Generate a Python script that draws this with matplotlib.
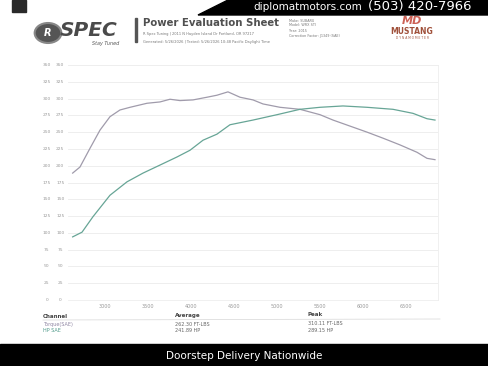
import matplotlib.pyplot as plt
from matplotlib.patches import Polygon, Rectangle, Circle

# dyno run
rpm_tq = [2624, 2709, 2826, 2942, 3058, 3174, 3291, 3488, 3640, 3756, 3872, 4023,
          4186, 4302, 4430, 4570, 4721, 4837, 5035, 5267, 5500, 5651, 5849, 6047,
          6233, 6430, 6628, 6744, 6837]
torque = [189, 198, 226, 253, 273, 283, 287, 293, 295, 299, 297, 298,
          302, 305, 310, 302, 298, 292, 287, 284, 276, 268, 259, 250,
          241, 231, 220, 211, 209]

rpm_hp = [2624, 2733, 2860, 3058, 3256, 3442, 3640, 3837, 3988, 4140, 4302, 4453,
          4721, 5000, 5267, 5500, 5767, 6047, 6349, 6581, 6744, 6837]
hp = [94, 101, 124, 156, 176, 189, 201, 213, 223, 238, 247, 261,
      268, 276, 284, 287, 289, 287, 284, 278, 270, 268]

x_ticks = [3000, 3500, 4000, 4500, 5000, 5500, 6000, 6500]
y_ticks = list(range(0, 351, 25))

channels = ["Torque(SAE)", "HP SAE"]
averages = ["262.30 FT-LBS", "241.89 HP"]
peaks = ["310.11 FT-LBS", "289.15 HP"]

tq_color = "#a09bab"
hp_color = "#67a596"
W, H = 488, 366


def fx(x):
    return x / W


def fy(y):
    return 1 - y / H


fig = plt.figure(figsize=(4.88, 3.66), dpi=100)
fig.patch.set_facecolor("white")

# top banner
fig.patches.append(Polygon([(fx(198), fy(15)), (fx(228), fy(0)), (1, 1), (1, fy(15))],
                           closed=True, transform=fig.transFigure, color="black"))
fig.patches.append(Rectangle((fx(12), fy(12)), fx(14), 12 / H, transform=fig.transFigure,
                             color="#2a2a2a"))
fig.text(fx(308), fy(7), "diplomatmotors.com", color="white", fontsize=7.5,
         ha="center", va="center")
fig.text(fx(420), fy(6.5), "(503) 420-7966", color="white", fontsize=9.5,
         ha="center", va="center")

# header
fig.patches.append(Circle((fx(48), fy(33)), 10 / H, transform=fig.transFigure,
                          facecolor="#555555", edgecolor="#888888", lw=1.5))
fig.text(fx(48), fy(33), "R", color="white", fontsize=7, fontweight="bold",
         style="italic", ha="center", va="center")
fig.text(fx(60), fy(31), "SPEC", color="#4a4a4a", fontsize=14.5, fontweight="bold",
         style="italic", ha="left", va="center")
fig.text(fx(119), fy(44), "Stay Tuned", color="#555555", fontsize=3.5,
         style="italic", ha="right", va="center")
fig.patches.append(Rectangle((fx(135), fy(42)), 2 / W, 24 / H, transform=fig.transFigure,
                             color="#555555"))
fig.text(fx(143), fy(23), "Power Evaluation Sheet", color="#505050", fontsize=7.3,
         fontweight="bold", ha="left", va="center")
fig.text(fx(143), fy(34), "R Spec Tuning | 2011 N Hayden Island Dr Portland, OR 97217",
         color="#777777", fontsize=2.6, ha="left", va="center")
fig.text(fx(143), fy(42), "Generated: 5/26/2026 | Tested: 5/26/2026 10:48 Pacific Daylight Time",
         color="#777777", fontsize=2.6, ha="left", va="center")
info = ["Make: SUBARU", "Model: WRX STI", "Year: 2015", "Correction Factor: J1349 (SAE)"]
for i, s in enumerate(info):
    fig.text(fx(289), fy(20.5 + 5 * i), s, color="#777777", fontsize=2.4,
             ha="left", va="center")
fig.text(fx(412), fy(21), "MD", color="#c0392b", fontsize=8, fontweight="bold",
         style="italic", ha="center", va="center", alpha=0.8)
fig.text(fx(412), fy(32), "MUSTANG", color="#a0503a", fontsize=5.5, fontweight="bold",
         ha="center", va="center")
fig.text(fx(412), fy(38), "D Y N A M O M E T E R", color="#a0503a", fontsize=2.2,
         ha="center", va="center")

# chart
ax = fig.add_axes([fx(68), fy(300), 370 / W, 235 / H])
ax.plot(rpm_tq, torque, color=tq_color, lw=0.9)
ax.plot(rpm_hp, hp, color=hp_color, lw=0.9)
ax.set_xlim(2570, 6872)
ax.set_ylim(0, 350)
ax.set_yticks(y_ticks)
ax.set_yticklabels([])
ax.tick_params(axis="y", length=0)
ax.set_xticks(x_ticks)
ax.set_xticklabels([str(t) for t in x_ticks], fontsize=3.5, color="#999999")
ax.tick_params(axis="x", length=0, pad=3)
ax.grid(axis="y", color="#ebebeb", lw=0.6)
for s in ax.spines.values():
    s.set_color("#eeeeee")
    s.set_linewidth(0.6)
ax.spines["left"].set_visible(False)
tr = ax.get_yaxis_transform()
for t in y_ticks:
    ax.text(-0.057, t, str(t), transform=tr, fontsize=3.2, color="#999999",
            ha="center", va="center")
    ax.text(-0.021, t, str(t), transform=tr, fontsize=3.2, color="#999999",
            ha="center", va="center")

# summary table
fig.text(fx(43), fy(316), "Channel", color="#444444", fontsize=4, fontweight="bold",
         ha="left", va="center")
fig.text(fx(175), fy(315), "Average", color="#444444", fontsize=4, fontweight="bold",
         ha="left", va="center")
fig.text(fx(308), fy(314), "Peak", color="#444444", fontsize=4, fontweight="bold",
         ha="left", va="center")
fig.add_artist(plt.Line2D([fx(43), fx(440)], [fy(320), fy(319)], color="#dddddd", lw=0.6))
row_colors = ["#8f86a3", "#4f9a8a"]
for i in range(2):
    y = 324.5 + 6.5 * i
    fig.text(fx(43), fy(y), channels[i], color=row_colors[i], fontsize=3.5,
             ha="left", va="center")
    fig.text(fx(175), fy(y), averages[i], color="#666666", fontsize=3.5,
             ha="left", va="center")
    fig.text(fx(308), fy(y - 1), peaks[i], color="#666666", fontsize=3.5,
             ha="left", va="center")

# bottom banner
fig.patches.append(Rectangle((0, 0), 1, 22 / H, transform=fig.transFigure, color="black"))
fig.text(0.5, fy(356), "Doorstep Delivery Nationwide", color="white", fontsize=7.5,
         ha="center", va="center")

fig.savefig("out.png", dpi=100)
